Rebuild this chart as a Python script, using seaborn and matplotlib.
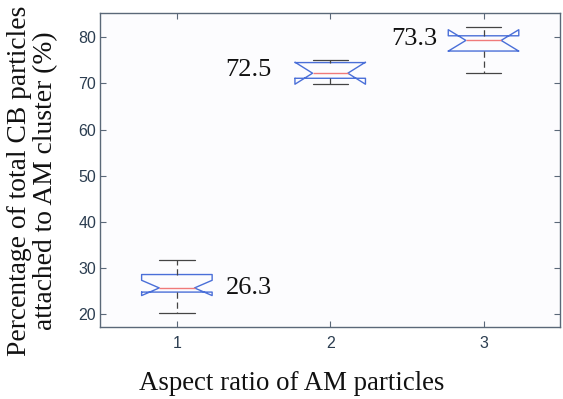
import pandas as pd
import seaborn as sns
import matplotlib.pyplot as plt

# values (min, quartiles, median, max)
ratio_1 = [20.3, 23.0, 24.2, 24.8, 25.2, 25.5, 25.7, 26.5, 27.5, 28.6, 29.5, 30.6, 31.7]
ratio_2 = [69.8, 71.1, 72.2, 74.5, 75.0]
ratio_3 = [72.2, 77.0, 79.3, 80.3, 82.1]
ratios = [1, 2, 3]
labels = ['26.3', '72.5', '73.3']
label_x = [1.32, 1.615, 2.70]
label_y = [25.7, 73.0, 79.5]
label_ha = ['left', 'right', 'right']

df = pd.DataFrame({
    'ratio': [1] * len(ratio_1) + [2] * len(ratio_2) + [3] * len(ratio_3),
    'pct': ratio_1 + ratio_2 + ratio_3,
})

sns.set_style('ticks')
plt.rcParams['font.family'] = ['Liberation Sans', 'DejaVu Sans']

fig = plt.figure(figsize=(5.63, 3.99), dpi=100)
ax = fig.add_axes([0.178, 0.180, 0.817, 0.787])
ax.set_facecolor('#fcfcfe')

sns.boxplot(df, x='ratio', y='pct', native_scale=True, notch=True,
            width=0.46, fill=False, linewidth=1.0, linecolor='#4a6fd8',
            boxprops=dict(color='#4a6fd8'),
            medianprops=dict(color='#f07a7a', linewidth=1.0),
            whiskerprops=dict(color='#444444', linestyle=(0, (5, 3)), linewidth=0.9),
            capprops=dict(color='#444444', linewidth=0.9),
            ax=ax)

for t, x, y, ha in zip(labels, label_x, label_y, label_ha):
    ax.text(x, y, t, ha=ha, va='center', fontsize=19,
            family='Liberation Serif', color='#111111')

ax.set_xlim(0.5, 3.5)
ax.set_ylim(17.2, 85.2)
ax.set_xticks(ratios)
ax.set_xticklabels([str(r) for r in ratios])
ax.set_yticks(range(20, 81, 10))

for s in ax.spines.values():
    s.set_color('#5a6878')
    s.set_linewidth(1.0)
ax.tick_params(direction='in', top=True, right=True, length=4,
               color='#5a6878', labelcolor='#2b3d50', labelsize=11.5)
ax.tick_params(axis='x', pad=6)
ax.tick_params(axis='y', pad=3)

ax.set_xlabel('Aspect ratio of AM particles', family='Liberation Serif',
              fontsize=19.3, color='#111111', va='center')
ax.set_ylabel('Percentage of total CB particles\nattached to AM cluster (%)',
              family='Liberation Serif', fontsize=19.8, color='#111111',
              linespacing=1.05, va='center')
ax.xaxis.set_label_coords(0.417, -0.178)
ax.yaxis.set_label_coords(-0.148, 0.465)

plt.savefig('out.png', dpi=100)
